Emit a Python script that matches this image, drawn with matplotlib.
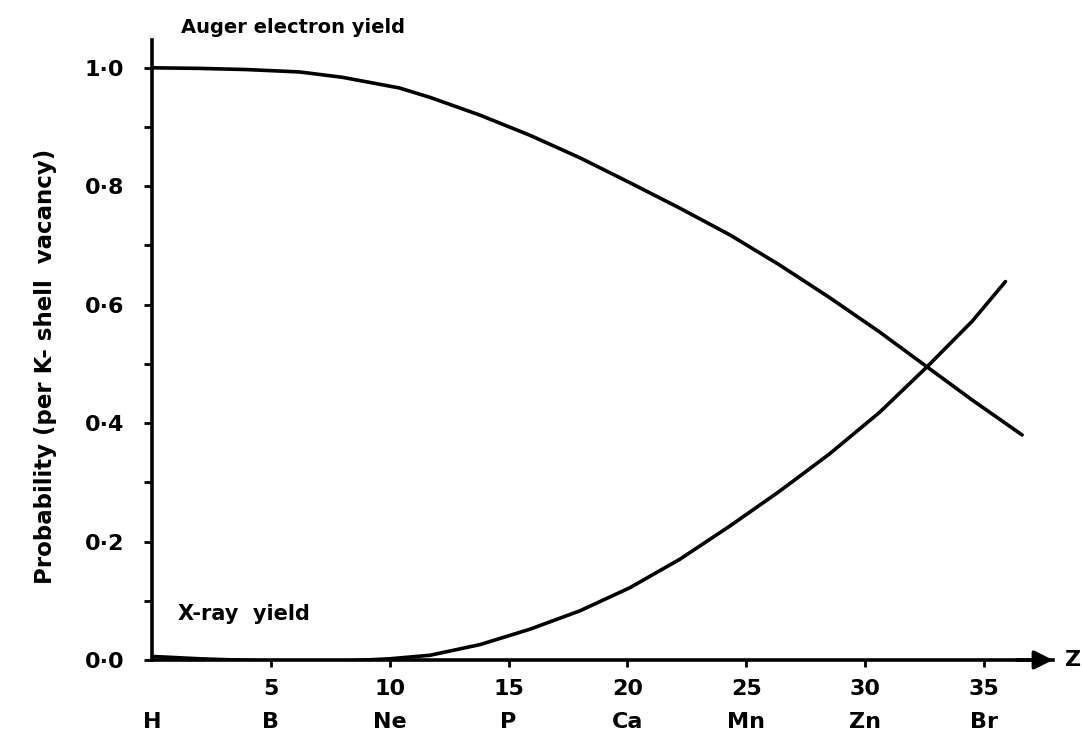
import numpy as np
import matplotlib
matplotlib.use("Agg")
import matplotlib.pyplot as plt
from matplotlib.ticker import FuncFormatter, MultipleLocator

# values
z_auger = [0, 2, 4, 6.2, 8, 10.4, 11.7, 13.8, 15.9, 18, 20.1, 22.2, 24.3, 26.4, 28.5, 30.6, 32.6, 34.5, 36.6]
auger = [1.0, 0.999, 0.997, 0.993, 0.984, 0.966, 0.950, 0.920, 0.886, 0.848, 0.806, 0.763, 0.718, 0.667,
         0.612, 0.554, 0.495, 0.439, 0.380]

z_xray = [0, 2, 5, 8, 10, 11.7, 13.8, 15.9, 18, 20.1, 22.2, 24.3, 26.4, 28.5, 30.6, 32.6, 34.5, 35.9]
xray = [0.006, 0.002, -0.002, -0.002, 0.002, 0.008, 0.026, 0.052, 0.083, 0.122, 0.170, 0.226, 0.285,
        0.348, 0.418, 0.495, 0.572, 0.639]

z_ticks = [5, 10, 15, 20, 25, 30, 35]
z_elems = [0, 5, 10, 15, 20, 25, 30, 35]
elements = ["H", "B", "Ne", "P", "Ca", "Mn", "Zn", "Br"]

plt.rcParams['font.family'] = ['DejaVu Sans']
plt.rcParams['font.weight'] = 'bold'
plt.rcParams['axes.labelweight'] = 'bold'

fig = plt.figure(figsize=(10.82, 7.36), dpi=100)
ax = fig.add_axes([0.1405, 0.1033, 0.8327, 0.8424])

ax.plot(z_auger, auger, color='black', lw=2.6, solid_capstyle='round', solid_joinstyle='round')
ax.plot(z_xray, xray, color='black', lw=2.6, solid_capstyle='round', solid_joinstyle='round')

ax.set_xlim(0, 37.9)
ax.set_ylim(0, 1.047)

for s in ['top', 'right']:
    ax.spines[s].set_visible(False)
for s in ['left', 'bottom']:
    ax.spines[s].set_linewidth(2.6)

# arrow head on the Z axis
ax.annotate('', xy=(1.0, 0), xytext=(0.96, 0), xycoords='axes fraction', textcoords='axes fraction',
            arrowprops=dict(arrowstyle='-|>', mutation_scale=28, color='black', lw=2.6,
                            shrinkA=0, shrinkB=0), annotation_clip=False)
ax.text(1.013, 0, "Z", transform=ax.get_yaxis_transform(), fontsize=16, va='center', ha='left')

ax.yaxis.set_major_locator(MultipleLocator(0.2))
ax.yaxis.set_minor_locator(MultipleLocator(0.1))
ax.yaxis.set_major_formatter(FuncFormatter(lambda v, p: f"{v:.1f}".replace(".", "\u00b7")))
ax.tick_params(axis='y', which='both', direction='out', length=6, width=2, labelsize=16, pad=14)

ax.set_xticks(z_ticks)
ax.set_xticklabels([str(z) for z in z_ticks])
ax.tick_params(axis='x', direction='out', length=5, width=2, labelsize=16, pad=9)

for z, el in zip(z_elems, elements):
    ax.text(z, -0.1, el, transform=ax.get_xaxis_transform(), fontsize=16, ha='center', va='center')

ax.set_ylabel("Probability (per K- shell  vacancy)", fontsize=16.5)
ax.yaxis.set_label_coords(-0.106, 0.473)

ax.text(1.2, 1.068, "Auger electron yield", fontsize=14, ha='left', va='center')
ax.text(1.1, 0.077, "X-ray  yield", fontsize=15, ha='left', va='center')

fig.savefig("out.png", dpi=100)
